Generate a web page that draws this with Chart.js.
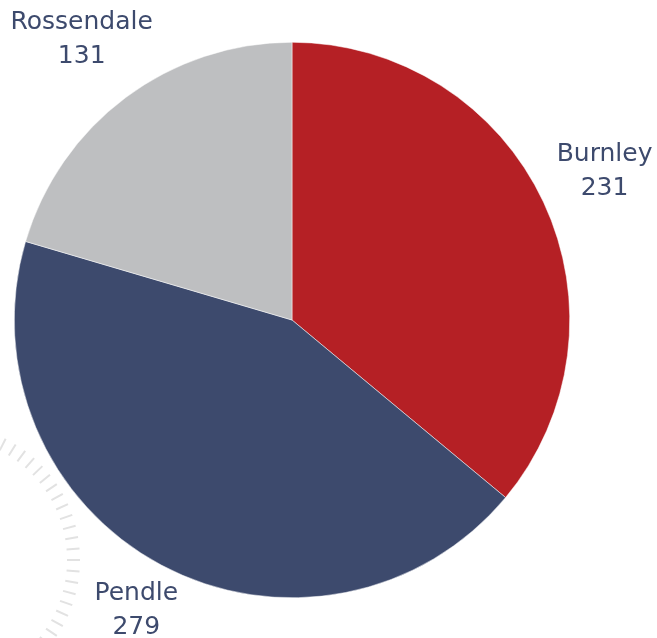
<!DOCTYPE html>
<html>
<head>
<meta charset="utf-8">
<script src="https://cdn.jsdelivr.net/npm/chart.js@4.4.0/dist/chart.umd.min.js"></script>
<style>
  html, body { margin: 0; padding: 0; background: #fff; }
  #wrap { width: 657px; height: 638px; }
</style>
</head>
<body>
<div id="wrap"><canvas id="districtChart" width="657" height="638"></canvas></div>
<script>
  // Distritos e valores
  const districts = ['Burnley', 'Pendle', 'Rossendale'];
  const counts = [231, 279, 131];
  const sliceColors = ['#B52025', '#3D4A6D', '#BEBFC1'];

  const labelColor = '#3D4A6D';
  const labelFont = '25px "DejaVu Sans", Verdana, sans-serif';
  // pequenos ajustes de posição dos rótulos (px)
  const labelNudge = [[-4, -8], [6, 2], [13, -16]];

  // Arco decorativo com traços no canto inferior esquerdo
  const tickArc = {
    id: 'tickArc',
    beforeDraw(chart) {
      const ctx = chart.ctx;
      const cx = -56, cy = 560;
      ctx.save();
      ctx.strokeStyle = '#E2E2E2';
      ctx.lineWidth = 2;
      for (let k = -15; k <= 16; k++) {
        const r = k * 4.85 * Math.PI / 180;
        ctx.beginPath();
        ctx.moveTo(cx + 123 * Math.cos(r), cy + 123 * Math.sin(r));
        ctx.lineTo(cx + 136 * Math.cos(r), cy + 136 * Math.sin(r));
        ctx.stroke();
      }
      ctx.restore();
    }
  };

  // Rótulos fora das fatias: nome e valor
  const outsideLabels = {
    id: 'outsideLabels',
    afterDatasetsDraw(chart) {
      const ctx = chart.ctx;
      const meta = chart.getDatasetMeta(0);
      ctx.save();
      ctx.font = labelFont;
      ctx.fillStyle = labelColor;
      ctx.textAlign = 'center';
      ctx.textBaseline = 'middle';
      const lineH = 34;
      meta.data.forEach((arc, i) => {
        const p = arc.getProps(['x', 'y', 'startAngle', 'endAngle', 'outerRadius'], true);
        const mid = (p.startAngle + p.endAngle) / 2;
        const dx = Math.cos(mid), dy = Math.sin(mid);
        const name = chart.data.labels[i];
        const val = String(chart.data.datasets[0].data[i]);
        const w = Math.max(ctx.measureText(name).width, ctx.measureText(val).width);
        const h = lineH * 2 - 12;
        const gap = 24;
        let bx = p.x + (p.outerRadius + gap) * dx + dx * w / 2;
        let by = p.y + (p.outerRadius + gap) * dy + dy * h / 2;
        by = Math.min(by, chart.height - h / 2 - 2);
        bx += labelNudge[i][0];
        by += labelNudge[i][1];
        ctx.fillText(name, bx, by - lineH / 2);
        ctx.fillText(val, bx, by + lineH / 2);
      });
      ctx.restore();
    }
  };

  const chartData = {
    labels: districts,
    datasets: [{
      data: counts,
      backgroundColor: sliceColors,
      borderColor: '#ffffff',
      borderWidth: 0.5
    }]
  };

  const chartConfig = {
    type: 'pie',
    data: chartData,
    options: {
      responsive: false,
      animation: false,
      layout: { padding: { left: 14, right: 87, top: 42, bottom: 40 } },
      plugins: {
        legend: { display: false },
        tooltip: { enabled: false }
      }
    },
    plugins: [tickArc, outsideLabels]
  };

  new Chart(document.getElementById('districtChart'), chartConfig);
</script>
</body>
</html>
